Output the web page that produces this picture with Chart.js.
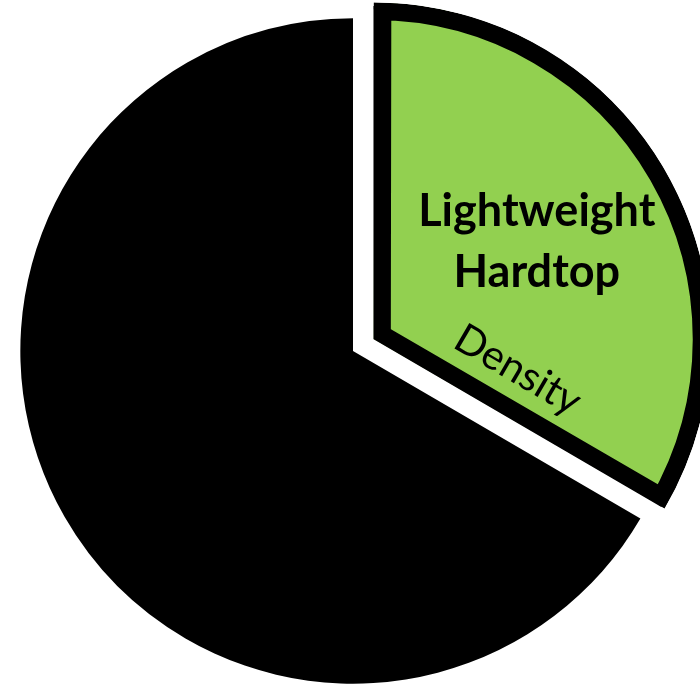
<!DOCTYPE html>
<html>
<head>
<meta charset="utf-8">
<script src="https://cdn.jsdelivr.net/npm/chart.js@4"></script>
<style>
  html, body { margin: 0; padding: 0; background: #fff; }
  #wrap { width: 700px; height: 684px; }
</style>
</head>
<body>
<div id="wrap"><canvas id="pieChart"></canvas></div>
<script>
const categories = ["Lightweight Hardtop", "Other"];
const shares = [33.4, 66.6];
const sliceColors = ["#92d050", "#000000"];
const sliceBorders = [17, 0];
const sliceOffsets = [96, 0];

// find a font size so the text fills the wanted width
function fitFont(ctx, text, weight, family, targetWidth) {
    ctx.font = weight + " 100px " + family;
    const w = ctx.measureText(text).width;
    return Math.round(100 * targetWidth / w);
}

const sliceLabels = {
    id: "sliceLabels",
    afterDatasetsDraw(chart) {
        const ctx = chart.ctx;
        const arc = chart.getDatasetMeta(0).data[0];
        const mid = (arc.startAngle + arc.endAngle) / 2;
        const shift = sliceOffsets[0] / 4;
        const cx = arc.x + Math.cos(mid) * shift;
        const cy = arc.y + Math.sin(mid) * shift;
        const grow = shift * (1 - Math.sin(Math.min(Math.PI, arc.circumference)));
        const outer = arc.outerRadius + grow;
        const family = "Lato, 'Open Sans', sans-serif";

        ctx.save();
        // cover the green fringe along the outer edge of the border
        ctx.save();
        ctx.beginPath();
        ctx.moveTo(cx, cy);
        ctx.arc(cx, cy, outer + 0.3, arc.startAngle, arc.endAngle);
        ctx.closePath();
        ctx.clip();
        ctx.beginPath();
        ctx.arc(cx, cy, outer - 3, arc.startAngle - 0.1, arc.endAngle + 0.1);
        ctx.lineWidth = 7;
        ctx.strokeStyle = "#000";
        ctx.stroke();
        ctx.restore();

        ctx.fillStyle = "#000";
        ctx.textAlign = "center";
        ctx.textBaseline = "alphabetic";
        const words = categories[0].split(" ");
        const size = fitFont(ctx, words[0], "bold", family, 239);
        ctx.font = "bold " + size + "px " + family;
        ctx.fillText(words[0], cx + 163, cy - 113);
        ctx.fillText(words[1], cx + 163, cy - 52);

        const dSize = fitFont(ctx, "Density", "normal", family, 138);
        ctx.translate(cx + 144, cy + 31);
        ctx.rotate(arc.endAngle);
        ctx.font = "normal " + dSize + "px " + family;
        ctx.textBaseline = "middle";
        ctx.fillText("Density", 0, 0);
        ctx.restore();
    }
};

new Chart(document.getElementById("pieChart").getContext("2d"), {
    type: "pie",
    data: {
        labels: categories,
        datasets: [
            {
                data: shares,
                backgroundColor: sliceColors,
                borderColor: "#000000",
                borderWidth: sliceBorders,
                borderAlign: "inner",
                borderJoinStyle: "miter",
                offset: sliceOffsets,
            },
        ],
    },
    options: {
        responsive: true,
        maintainAspectRatio: false,
        animation: false,
        events: [],
        radius: 333,
        layout: {
            padding: { top: 18, left: 6, right: 0, bottom: 0 },
        },
        plugins: {
            legend: { display: false },
            tooltip: { enabled: false },
        },
    },
    plugins: [sliceLabels],
});
</script>
</body>
</html>
